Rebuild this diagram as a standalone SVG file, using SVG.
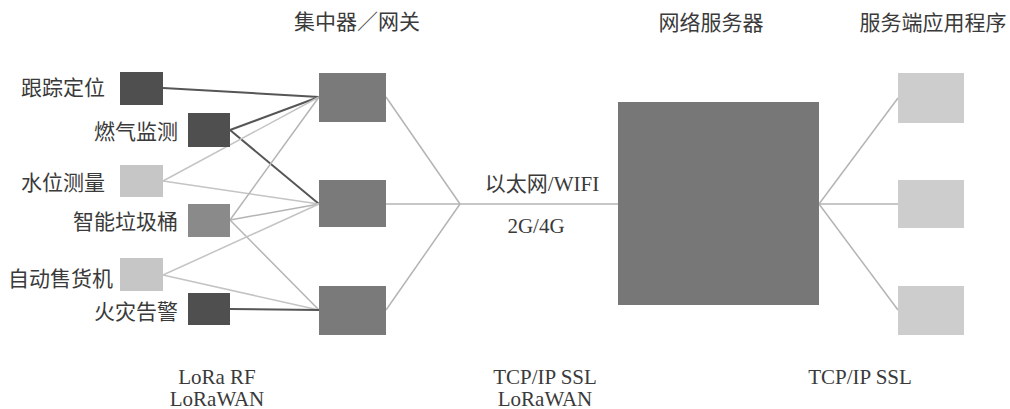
<svg xmlns="http://www.w3.org/2000/svg" width="1010" height="409" viewBox="0 0 1010 409">
<style>
.cn{font-family:"Noto Sans CJK SC","Liberation Sans",sans-serif;font-size:21px;fill:#3a3a3a}
.lt{font-family:"Liberation Serif","Noto Sans CJK SC",serif;font-size:21px;fill:#3a3a3a}
.dark{fill:#4f4f4f}
.mid{fill:#8a8a8a}
.light{fill:#c6c6c6}
.gw{fill:#7a7a7a}
.srv{fill:#777777}
.app{fill:#cdcdcd}
.ld{stroke:#565656;stroke-width:2;fill:none}
.ll{stroke:#c4c4c4;stroke-width:1.5;fill:none}
.lm{stroke:#b4b4b4;stroke-width:1.5;fill:none}
</style>
<rect width="1010" height="409" fill="#ffffff"/>
<g id="connectors">
<line class="ld" x1="163" y1="88" x2="319" y2="97"/>
<line class="ld" x1="230" y1="130" x2="319" y2="97"/>
<line class="ld" x1="230" y1="130" x2="319" y2="204"/>
<line class="ll" x1="163" y1="181" x2="319" y2="97"/>
<line class="ll" x1="163" y1="181" x2="319" y2="204"/>
<line class="lm" x1="230" y1="220" x2="319" y2="97"/>
<line class="lm" x1="230" y1="220" x2="319" y2="204"/>
<line class="lm" x1="230" y1="220" x2="319" y2="310"/>
<line class="ll" x1="163" y1="275" x2="319" y2="204"/>
<line class="ll" x1="163" y1="275" x2="319" y2="310"/>
<line class="ld" x1="230" y1="309" x2="319" y2="310"/>
<line class="lm" x1="386" y1="97" x2="460" y2="204"/>
<line class="lm" x1="386" y1="204" x2="460" y2="204"/>
<line class="lm" x1="386" y1="310" x2="460" y2="204"/>
<line class="lm" x1="460" y1="204" x2="618" y2="204"/>
<line class="lm" x1="819" y1="204" x2="898" y2="98"/>
<line class="lm" x1="819" y1="204" x2="898" y2="204"/>
<line class="lm" x1="819" y1="204" x2="898" y2="310"/>
</g>
<g id="s1"><rect class="dark" x="120" y="72" width="43" height="33"/><text class="cn" x="105" y="95" text-anchor="end">跟踪定位</text></g>
<g id="s2"><rect class="dark" x="188" y="113" width="42" height="34"/><text class="cn" x="178" y="139" text-anchor="end">燃气监测</text></g>
<g id="s3"><rect class="light" x="120" y="165" width="43" height="32"/><text class="cn" x="105" y="190" text-anchor="end">水位测量</text></g>
<g id="s4"><rect class="mid" x="188" y="204" width="42" height="33"/><text class="cn" x="178" y="229" text-anchor="end">智能垃圾桶</text></g>
<g id="s5"><rect class="light" x="120" y="258" width="43" height="33"/><text class="cn" x="113" y="286" text-anchor="end">自动售货机</text></g>
<g id="s6"><rect class="dark" x="188" y="293" width="42" height="32"/><text class="cn" x="178" y="319" text-anchor="end">火灾告警</text></g>
<g id="gw-title"><text class="cn" x="357" y="29" text-anchor="middle">集中器／网关</text></g>
<g id="g1"><rect class="gw" x="319" y="73" width="67" height="49"/></g>
<g id="g2"><rect class="gw" x="319" y="180" width="67" height="47"/></g>
<g id="g3"><rect class="gw" x="319" y="286" width="67" height="49"/></g>
<g id="server"><rect class="srv" x="618" y="102" width="201" height="203"/><text class="cn" x="711" y="30" text-anchor="middle">网络服务器</text></g>
<g id="apps-title"><text class="cn" x="933" y="30" text-anchor="middle">服务端应用程序</text></g>
<g id="a1"><rect class="app" x="898" y="73" width="66" height="50"/></g>
<g id="a2"><rect class="app" x="898" y="180" width="66" height="48"/></g>
<g id="a3"><rect class="app" x="898" y="286" width="66" height="49"/></g>
<g id="labels">
<text class="lt" x="542" y="191" text-anchor="middle">以太网/WIFI</text>
<text class="lt" x="536" y="233" text-anchor="middle">2G/4G</text>
<text class="lt" x="217" y="384" text-anchor="middle">LoRa RF</text>
<text class="lt" x="217" y="406" text-anchor="middle">LoRaWAN</text>
<text class="lt" x="545" y="384" text-anchor="middle">TCP/IP SSL</text>
<text class="lt" x="545" y="406" text-anchor="middle">LoRaWAN</text>
<text class="lt" x="860" y="384" text-anchor="middle">TCP/IP SSL</text>
</g>
</svg>
